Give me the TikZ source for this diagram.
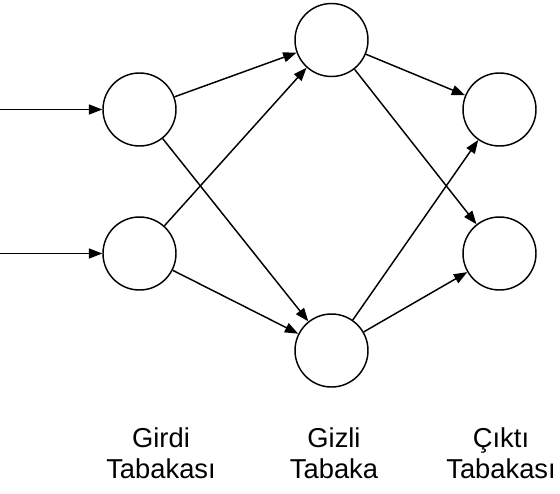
\documentclass[tikz,border=0pt]{standalone}
\usepackage{fontspec}
\setmainfont{Liberation Sans}
\usetikzlibrary{arrows.meta}
\begin{document}
\begin{tikzpicture}[x=0.75pt,y=-0.75pt,
  neuron/.style={circle,draw,line width=1.1pt,minimum size=54.75pt,inner sep=0pt},
  link/.style={line width=1.1pt,-{Triangle[length=10pt,width=7.5pt]}},
  lab/.style={align=center,inner sep=0pt,font=\fontsize{20.5}{23}\selectfont}]
\useasboundingbox (0,0) rectangle (560,493);
\node[neuron] (i1) at (139.5,109.5) {};
\node[neuron] (i2) at (139.5,253.5) {};
\node[neuron] (h1) at (331.5,40) {};
\node[neuron] (h2) at (331.5,350.5) {};
\node[neuron] (o1) at (499.5,109.5) {};
\node[neuron] (o2) at (499.5,253.5) {};
\coordinate (s1) at (0,109.5);
\coordinate (s2) at (0,253.5);
\draw[link] (s1) -- (i1);
\draw[link] (s2) -- (i2);
\draw[link] (i1) -- (h1);
\draw[link] (i1) -- (h2);
\draw[link] (i2) -- (h1);
\draw[link] (i2) -- (h2);
\draw[link] (h1) -- (o1);
\draw[link] (h1) -- (o2);
\draw[link] (h2) -- (o1);
\draw[link] (h2) -- (o2);
\node[lab] (t1) at (161,453) {Girdi\\Tabakası};
\node[lab] (t2) at (334,453) {Gizli\\Tabaka};
\node[lab] (t3) at (501,453) {Çıktı\\Tabakası};
\end{tikzpicture}
\end{document}
